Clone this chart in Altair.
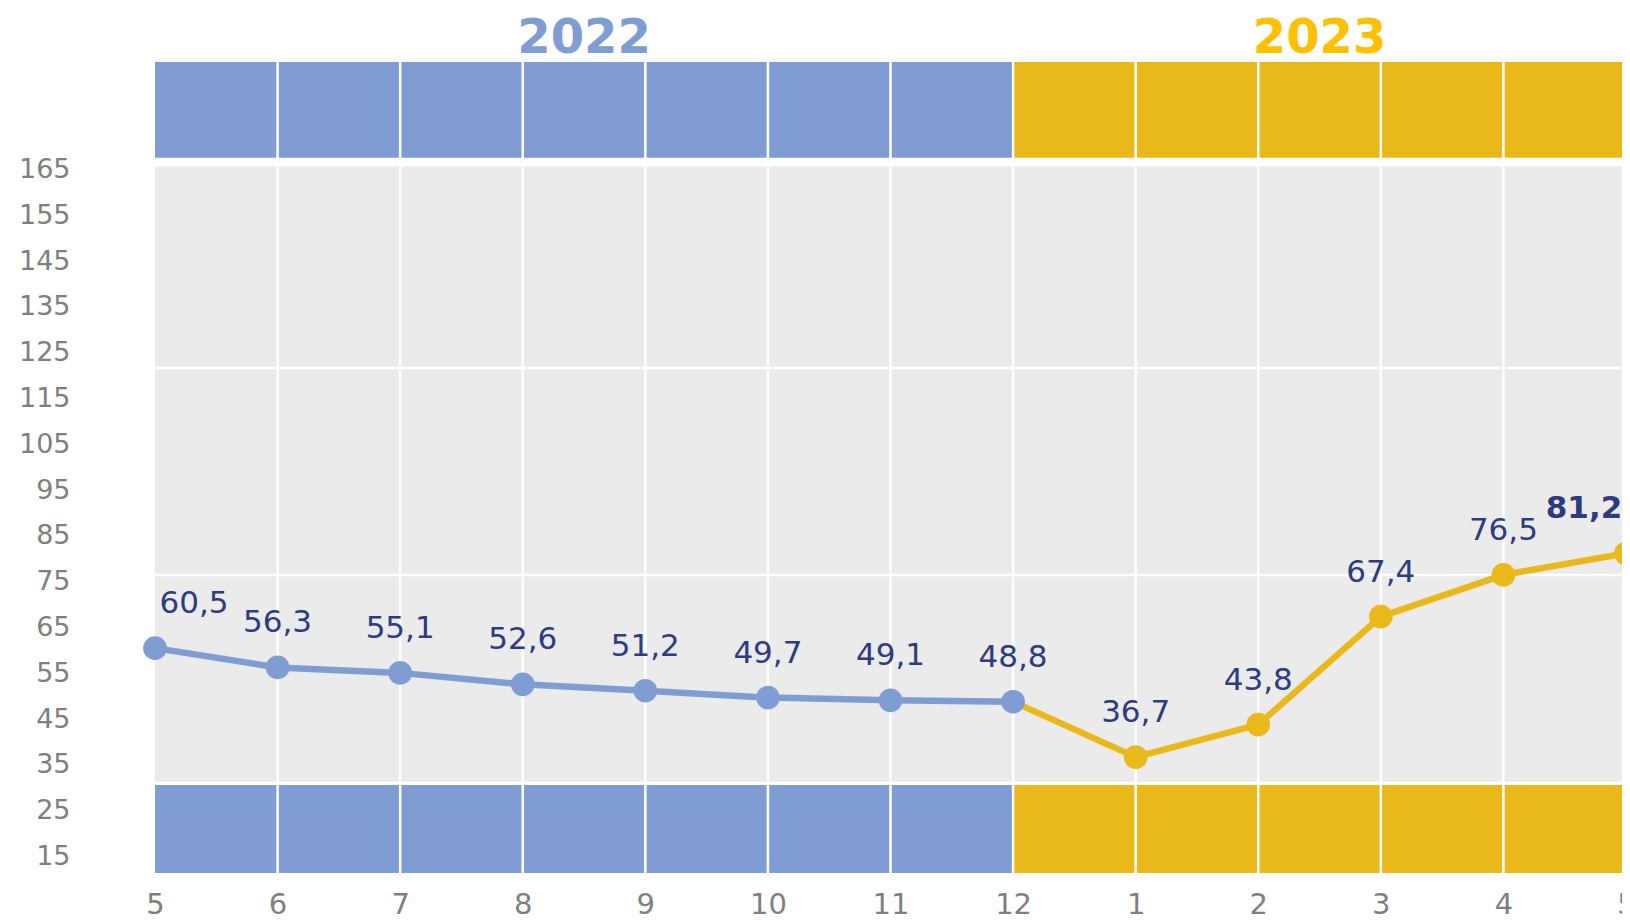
import json
import altair as alt
import pandas as pd

# ---- data ----
months = ["5", "6", "7", "8", "9", "10", "11", "12", "1", "2", "3", "4", "5"]
values = [60.5, 56.3, 55.1, 52.6, 51.2, 49.7, 49.1, 48.8, 36.7, 43.8, 67.4, 76.5, 81.2]
years = ["2022"] * 8 + ["2023"] * 5
y_ticks = [15, 25, 35, 45, 55, 65, 75, 85, 95, 105, 115, 125, 135, 145, 155, 165]

year_names = ["2022", "2023"]
year_start = [0, 7]
year_end = [7, 12]

# ---- layout / style ----
Y_MIN, Y_MAX = 11.4, 188.5
GRAY_LO, GRAY_HI = 31.3, 165.7
TOP_LO, BOT_HI = 167.6, 30.6
grid_lines = [121.7, 76.5]

BLUE = "#7F9DD2"
YELLOW = "#E9B81B"
TITLE_COLORS = {"2022": "#7F9DD2", "2023": "#FFC000"}
GRAY = "#EBEBEB"
NAVY = "#2E3B7F"
AXIS_GRAY = "#7F7F7F"
FONT = "DejaVu Sans"

n = len(values)
df = pd.DataFrame({
    "idx": list(range(n)),
    "value": values,
    "month": months,
    "year": years,
})
df["label"] = [f"{v:.1f}".replace(".", ",") for v in values]

xscale = alt.Scale(domain=[0, n - 1], nice=False, zero=False)
yscale = alt.Scale(domain=[Y_MIN, Y_MAX], nice=False, zero=False)

xaxis = alt.Axis(
    values=list(range(n)),
    labelExpr=json.dumps(months) + "[datum.value]",
    grid=False, domain=False, ticks=False, tickSize=0,
    labelPadding=17, labelFontSize=29, labelColor=AXIS_GRAY, labelFont=FONT,
    labelFlush=False, labelOverlap=False, title=None,
)
yaxis = alt.Axis(
    values=y_ticks,
    grid=False, domain=False, ticks=False, tickSize=0,
    labelPadding=85, labelFontSize=27, labelColor=AXIS_GRAY, labelFont=FONT,
    labelFlush=False, labelOverlap=False, title=None,
)


def X(f):
    return alt.X(f, type="quantitative", scale=xscale, axis=xaxis)


def Y(f):
    return alt.Y(f, type="quantitative", scale=yscale, axis=yaxis)


year_color = alt.Color("year:N", scale=alt.Scale(domain=year_names, range=[BLUE, YELLOW]), legend=None)

# gray background
bg = alt.Chart(pd.DataFrame({"x": [0], "x2": [n - 1], "y": [GRAY_LO], "y2": [GRAY_HI]})).mark_rect(
    color=GRAY
).encode(x=X("x"), x2="x2", y=Y("y"), y2="y2")

# year bands (top and bottom)
band_rows = []
for yn, s, e in zip(year_names, year_start, year_end):
    band_rows.append({"year": yn, "x": s, "x2": e, "y": TOP_LO, "y2": Y_MAX})
    band_rows.append({"year": yn, "x": s, "x2": e, "y": Y_MIN, "y2": BOT_HI})
bands = alt.Chart(pd.DataFrame(band_rows)).mark_rect().encode(
    x=X("x"), x2="x2", y=Y("y"), y2="y2", color=year_color
)

# white vertical separators
vsep = alt.Chart(pd.DataFrame({"x": list(range(1, n - 1)), "y": Y_MIN, "y2": Y_MAX})).mark_rule(
    color="white", strokeWidth=2.5
).encode(x=X("x"), y=Y("y"), y2="y2")

# white horizontal lines
hsep = alt.Chart(pd.DataFrame({"y": grid_lines, "x": 0, "x2": n - 1})).mark_rule(
    color="white", strokeWidth=2.5
).encode(y=Y("y"), x=X("x"), x2="x2")

base = alt.Chart(df)
line_blue = base.transform_filter("datum.idx <= 7").mark_line(color=BLUE, strokeWidth=6.5).encode(
    x=X("idx"), y=Y("value")
)
line_yellow = base.transform_filter("datum.idx >= 7").mark_line(color=YELLOW, strokeWidth=6.5).encode(
    x=X("idx"), y=Y("value")
)
points = base.mark_circle(size=560, opacity=1).encode(x=X("idx"), y=Y("value"), color=year_color)

lab_kw = dict(fontSize=31, font=FONT, color=NAVY, baseline="middle", align="center", dy=-44)
lab_first = base.transform_filter("datum.idx == 0").mark_text(dx=39, **lab_kw).encode(
    x=X("idx"), y=Y("value"), text="label:N"
)
lab_mid = base.transform_filter(f"datum.idx > 0 && datum.idx < {n - 1}").mark_text(**lab_kw).encode(
    x=X("idx"), y=Y("value"), text="label:N"
)
lab_last = base.transform_filter(f"datum.idx == {n - 1}").mark_text(dx=-42, fontWeight="bold", **lab_kw).encode(
    x=X("idx"), y=Y("value"), text="label:N"
)

titles = []
for yn, s, e in zip(year_names, year_start, year_end):
    t = alt.Chart(pd.DataFrame({"year": [yn], "x": [(s + e) / 2]})).mark_text(
        fontSize=48, fontWeight="bold", font=FONT, color=TITLE_COLORS[yn], baseline="middle", align="center"
    ).encode(x=X("x"), y=alt.value(-23), text="year:N")
    titles.append(t)

chart = alt.layer(
    bg, bands, vsep, hsep, line_blue, line_yellow, points, lab_first, lab_mid, lab_last, *titles
).properties(
    width=1471,
    height=811,
    padding={"left": 147, "top": 54, "right": -4, "bottom": 47},
    autosize=alt.AutoSizeParams(type="none"),
    background="white",
).configure_view(stroke=None)

chart.save("out.html", embed_options={"renderer": "svg", "actions": False})
